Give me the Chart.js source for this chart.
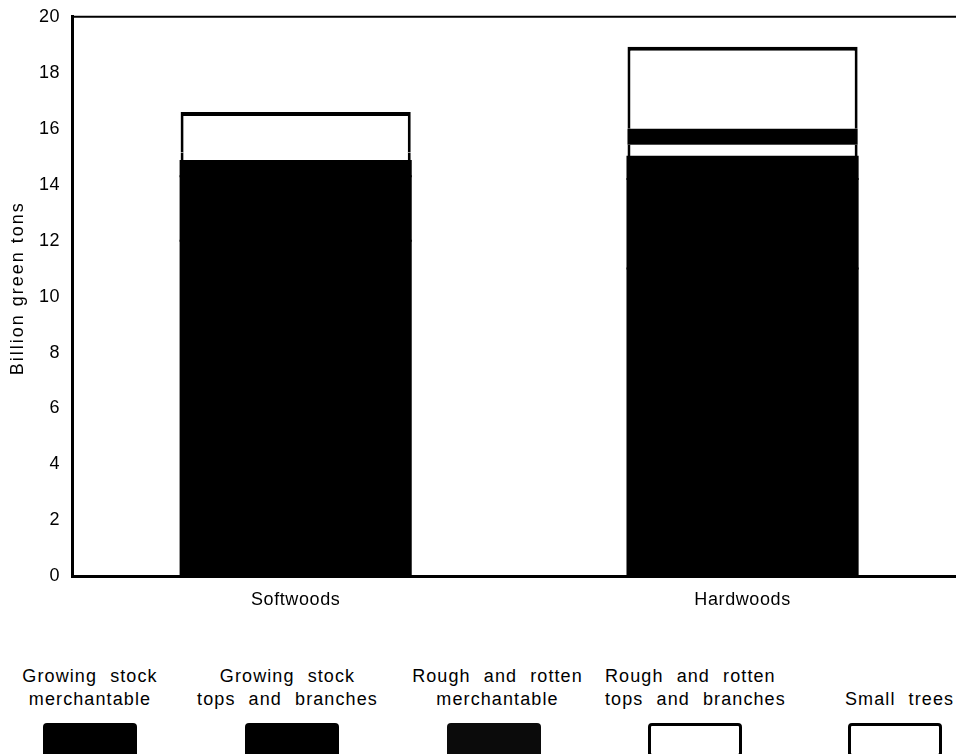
<!DOCTYPE html>
<html>
<head>
<meta charset="utf-8">
<script src="https://cdn.jsdelivr.net/npm/chart.js@4/dist/chart.umd.min.js"></script>
<style>
  html, body { margin: 0; padding: 0; background: #fff; overflow: hidden; }
  #wrap { position: relative; width: 966px; height: 754px; }
  #holder { position: absolute; left: 0; top: -6px; width: 966px; height: 634px; }
  .leg { position: absolute; top: 665px; font-family: "Liberation Sans", Arial, sans-serif; font-size: 18px; line-height: 23px; color: #000; letter-spacing: 1.1px; word-spacing: 7px; white-space: nowrap; }
  .leg .txt { height: 46px; display: flex; flex-direction: column; justify-content: flex-end; }
  .leg .box { width: 94px; height: 34px; border-radius: 4px; box-sizing: border-box; position: absolute; top: 58px; }
  .black { background: #000; }
  .rough { background: #0b0b0b; }
  .open { background: #fff; border: 3px solid #000; }
</style>
</head>
<body>
<div id="wrap">
  <div id="holder"><canvas id="bieuDo"></canvas></div>
  <div id="legend"></div>
</div>
<script>
const loaiGo = ['Softwoods', 'Hardwoods'];

// cac thanh phan chong len nhau (ty tan tuoi)
const gsMerch = [12.0, 11.0];
const gsTops = [2.3, 3.2];
const rrMerch = [0.55, 0.8];
const rrTops = [0.3, 0.43];
const dai = [0, 0.57];
const smallTrees = [1.45, 2.93];

const tieuDeTrucY = 'Billion green tons';

const nhanChuGiai = [
  ['Growing stock', 'merchantable'],
  ['Growing stock', 'tops and branches'],
  ['Rough and rotten', 'merchantable'],
  ['Rough and rotten', 'tops and branches'],
  ['', 'Small trees']
];
const kieuHop = ['black', 'black', 'rough', 'open', 'open'];

const FONT = '"Liberation Sans", Arial, sans-serif';

// gian chu cho chu tren canvas, tieu de truc y va duong vien tren cung
const trangTri = {
  id: 'trangTri',
  beforeLayout(chart) { chart.ctx.letterSpacing = '0.6px'; },
  beforeDraw(chart) { chart.ctx.letterSpacing = '0.6px'; },
  afterDraw(chart) {
    const { ctx, chartArea } = chart;
    ctx.save();
    ctx.strokeStyle = '#000';
    ctx.lineWidth = 2;
    ctx.beginPath();
    ctx.moveTo(chartArea.left, chartArea.top);
    ctx.lineTo(chartArea.right, chartArea.top);
    ctx.stroke();

    // tieu de truc y (gian chu rong hon)
    ctx.letterSpacing = '2px';
    ctx.fillStyle = '#000';
    ctx.font = '18px ' + FONT;
    ctx.textAlign = 'center';
    ctx.textBaseline = 'middle';
    ctx.translate(18, chart.scales.y.getPixelForValue(10.3));
    ctx.rotate(-Math.PI / 2);
    ctx.fillText(tieuDeTrucY, 0, 0);
    ctx.restore();
  }
};

function thanh(label, data, mau, vien, doDay, phong) {
  return {
    label: label,
    data: data,
    backgroundColor: mau,
    borderColor: vien,
    borderWidth: doDay,
    borderSkipped: false,
    inflateAmount: phong,
    barPercentage: 0.515,
    categoryPercentage: 1.0
  };
}

new Chart(document.getElementById('bieuDo').getContext('2d'), {
  type: 'bar',
  data: {
    labels: loaiGo,
    datasets: [
      thanh('Growing stock merchantable', gsMerch, '#000', '#000', 0, 1),
      thanh('Growing stock tops and branches', gsTops, '#000', '#000', 0, 1),
      thanh('Rough and rotten merchantable', rrMerch, '#000', '#000', 0, 1),
      thanh('Rough and rotten tops and branches', rrTops, '#fff', '#000', { left: 3, right: 3, top: 0, bottom: 0 }, 0),
      thanh('', dai, '#000', '#000', 0, 0),
      thanh('Small trees', smallTrees, '#fff', '#000', { left: 3, right: 3, top: 4, bottom: 0 }, 0)
    ]
  },
  options: {
    responsive: true,
    maintainAspectRatio: false,
    animation: false,
    layout: { padding: { top: 0, right: 0, bottom: 4, left: 27 } },
    plugins: {
      legend: { display: false },
      tooltip: { enabled: false }
    },
    scales: {
      x: {
        stacked: true,
        grid: { display: false, drawTicks: false },
        border: { color: '#000', width: 3 },
        ticks: { color: '#000', font: { family: FONT, size: 18 }, padding: 13 }
      },
      y: {
        stacked: true,
        min: 0,
        max: 20,
        grid: { display: false, drawTicks: false },
        border: { color: '#000', width: 3 },
        ticks: { stepSize: 2, color: '#000', font: { family: FONT, size: 18 }, padding: 12 }
      }
    }
  },
  plugins: [trangTri]
});

// chu giai: chu nam tren, hop nam duoi
const viTriChuGiai = [
  { left: 0, width: 180, hop: 43 },
  { left: 185, width: 205, hop: 245 },
  { left: 395, width: 205, hop: 447 },
  { left: 605, width: 210, hop: 648 },
  { left: 845, width: 130, hop: 848 }
];
const legendEl = document.getElementById('legend');
nhanChuGiai.forEach((dong, i) => {
  const item = document.createElement('div');
  item.className = 'leg';
  item.style.left = viTriChuGiai[i].left + 'px';
  item.style.width = viTriChuGiai[i].width + 'px';
  item.style.textAlign = i >= 3 ? 'left' : 'center';
  const txt = document.createElement('div');
  txt.className = 'txt';
  dong.forEach(t => {
    const d = document.createElement('div');
    d.textContent = t;
    txt.appendChild(d);
  });
  const box = document.createElement('div');
  box.className = 'box ' + kieuHop[i];
  box.style.left = (viTriChuGiai[i].hop - viTriChuGiai[i].left) + 'px';
  item.appendChild(txt);
  item.appendChild(box);
  legendEl.appendChild(item);
});
</script>
</body>
</html>
